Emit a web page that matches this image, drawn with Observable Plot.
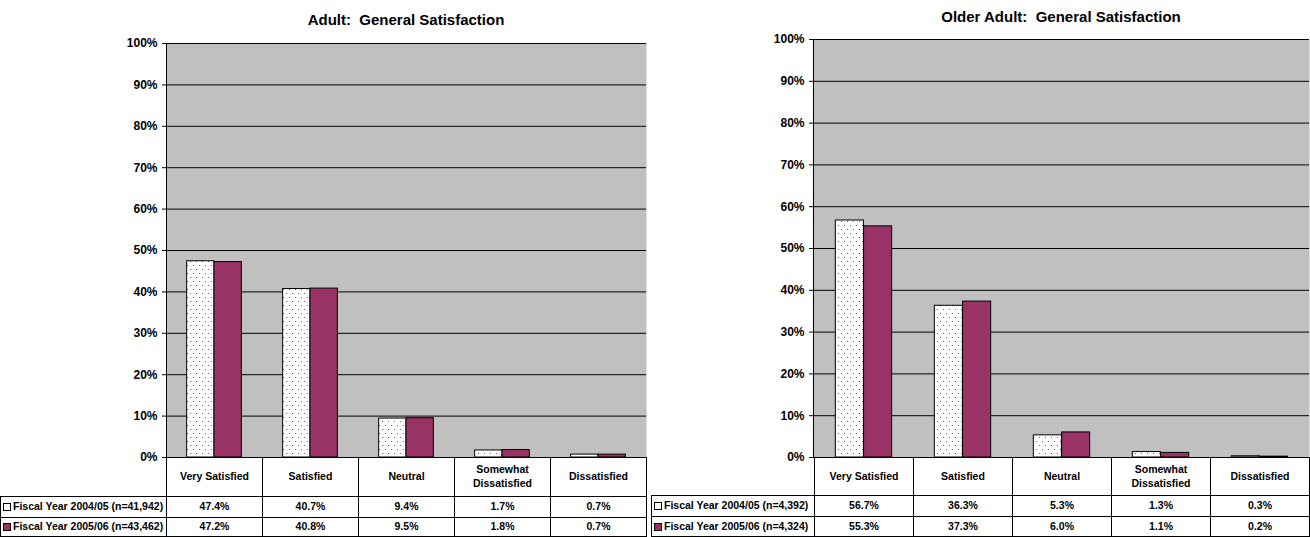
<!DOCTYPE html>
<html>
<head>
<meta charset="utf-8">
<script src="https://cdn.jsdelivr.net/npm/d3@7"></script>
<script src="https://cdn.jsdelivr.net/npm/@observablehq/plot@0.6"></script>
<style>
  html, body { margin: 0; padding: 0; background: #fff; }
  body {
    width: 1310px; height: 537px; position: relative; overflow: hidden;
    font-family: "Liberation Sans", Arial, sans-serif; font-weight: bold; color: #000;
  }
  .panel { position: absolute; top: 0; height: 537px; }
  .panel svg { position: absolute; top: 0; left: 0; }
  .title {
    position: absolute; font-size: 15px; white-space: pre;
    transform: translate(-50%, -50%);
  }
  .cell {
    position: absolute; box-sizing: border-box; border: 1px solid #000;
    display: flex; align-items: center; justify-content: center; text-align: center;
    font-size: 10.5px; line-height: 1.3; padding: 0 6px;
  }
  .cell.legend { justify-content: flex-start; white-space: nowrap; padding: 0 0 0 2px; }
  .key {
    display: inline-block; box-sizing: border-box; width: 8px; height: 8px;
    border: 1px solid #000; margin-right: 2px;
  }
</style>
</head>
<body>
<script>
// Response categories shared by both charts
const categories = ["Very Satisfied", "Satisfied", "Neutral", "Somewhat Dissatisfied", "Dissatisfied"];

// Survey years and their sample sizes
const seriesNames = ["Fiscal Year 2004/05", "Fiscal Year 2005/06"];
const adultN = ["41,942", "43,462"];
const olderN = ["4,392", "4,324"];

// Percent of respondents per category
const adult2004 = [47.4, 40.7, 9.4, 1.7, 0.7];
const adult2005 = [47.2, 40.8, 9.5, 1.8, 0.7];
const older2004 = [56.7, 36.3, 5.3, 1.3, 0.3];
const older2005 = [55.3, 37.3, 6.0, 1.1, 0.2];

// Y axis ticks (percent)
const yTicks = [0, 10, 20, 30, 40, 50, 60, 70, 80, 90, 100];

const fontFamily = '"Liberation Sans", Arial, sans-serif';
const plum = "#993366";

function drawPanel(cfg) {
  const panel = document.createElement("div");
  panel.className = "panel";
  panel.style.left = cfg.left + "px";
  panel.style.width = cfg.width + "px";
  document.body.appendChild(panel);

  const rows = categories.map((c, i) => ({category: c, a: cfg.first[i], b: cfg.second[i]}));
  const band = (cfg.width - cfg.marginLeft - cfg.marginRight) / categories.length;

  const chart = Plot.plot({
    width: cfg.width,
    height: cfg.height,
    marginLeft: cfg.marginLeft,
    marginRight: cfg.marginRight,
    marginTop: cfg.marginTop,
    marginBottom: 1,
    style: {fontFamily, fontSize: "12px", fontWeight: "bold", color: "#000", background: "transparent", overflow: "visible"},
    x: {domain: categories, padding: 0, axis: null},
    y: {domain: [0, 100], ticks: yTicks, tickFormat: d => d + "%", tickSize: 4, tickPadding: 5, label: null},
    marks: [
      Plot.frame({fill: "#c0c0c0"}),
      Plot.ruleY(yTicks, {stroke: "#000", strokeWidth: 1}),
      Plot.frame({anchor: "left", stroke: "#000"}),
      Plot.barY(rows, {
        x: "category", y: "a", fill: `url(#${cfg.id}-dots)`, stroke: "#000", strokeWidth: 1,
        insetLeft: band * 0.215, insetRight: band * 0.5
      }),
      Plot.barY(rows, {
        x: "category", y: "b", fill: plum, stroke: "#000", strokeWidth: 1,
        insetLeft: band * 0.5, insetRight: band * 0.215
      })
    ]
  });

  // dotted fill used by the earlier year's bars
  const svgns = "http://www.w3.org/2000/svg";
  const defs = document.createElementNS(svgns, "defs");
  defs.innerHTML =
    `<pattern id="${cfg.id}-dots" width="6" height="8" patternUnits="userSpaceOnUse">` +
    `<rect width="6" height="8" fill="#fff"/>` +
    `<rect x="1" y="1" width="1" height="1" fill="#666"/>` +
    `<rect x="4" y="5" width="1" height="1" fill="#666"/>` +
    `</pattern>`;
  chart.insertBefore(defs, chart.firstChild);
  panel.appendChild(chart);

  // chart title, centred over the plotting area
  const title = document.createElement("div");
  title.className = "title";
  title.textContent = cfg.title;
  title.style.left = (cfg.marginLeft + (cfg.width - cfg.marginLeft - cfg.marginRight) / 2) + "px";
  title.style.top = cfg.titleY + "px";
  panel.appendChild(title);

  // data table below the axis; column edges come from the x scale
  const sx = chart.scale("x");
  const edges = categories.map(c => sx.apply(c));
  edges.push(sx.apply(categories[categories.length - 1]) + sx.bandwidth);
  const xs = edges.map(e => Math.round(e));
  const ys = cfg.rowEdges;

  function cell(x0, x1, y0, y1, html, cls) {
    const d = document.createElement("div");
    d.className = "cell" + (cls ? " " + cls : "");
    d.style.left = x0 + "px";
    d.style.top = y0 + "px";
    d.style.width = (x1 - x0 + 1) + "px";
    d.style.height = (y1 - y0 + 1) + "px";
    d.innerHTML = html;
    panel.appendChild(d);
  }

  categories.forEach((c, i) => cell(xs[i], xs[i + 1], ys[0], ys[1], c));
  const series = [cfg.first, cfg.second];
  const keys = ['<span class="key" style="background:#fff"></span>',
                `<span class="key" style="background:${plum}"></span>`];
  series.forEach((vals, r) => {
    cell(cfg.legendLeft, xs[0], ys[r + 1], ys[r + 2],
         keys[r] + `${seriesNames[r]} (n=${cfg.n[r]})`, "legend");
    vals.forEach((v, i) => cell(xs[i], xs[i + 1], ys[r + 1], ys[r + 2], v.toFixed(1) + "%"));
  });
}

drawPanel({
  id: "adult", title: "Adult:  General Satisfaction", titleY: 19,
  left: 0, width: 648, height: 458, marginLeft: 166, marginRight: 2, marginTop: 43,
  legendLeft: 0, rowEdges: [457, 496, 517, 536],
  first: adult2004, second: adult2005, n: adultN
});

drawPanel({
  id: "older", title: "Older Adult:  General Satisfaction", titleY: 16,
  left: 651, width: 659, height: 458, marginLeft: 162, marginRight: 1, marginTop: 39,
  legendLeft: 0, rowEdges: [457, 495, 516, 536],
  first: older2004, second: older2005, n: olderN
});
</script>
</body>
</html>
